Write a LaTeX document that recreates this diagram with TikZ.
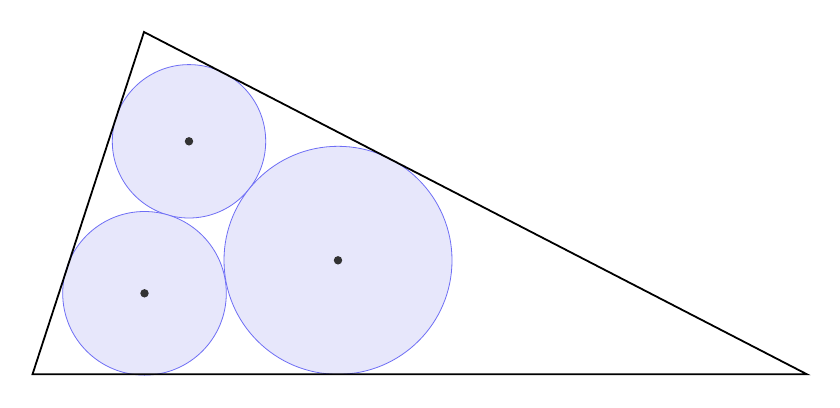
\documentclass[tikz,border=0pt]{standalone}
\definecolor{circfill}{RGB}{231,231,251}
\definecolor{circline}{RGB}{110,110,245}
\definecolor{dotcol}{RGB}{51,51,51}
\begin{document}
\begin{tikzpicture}[x=1pt,y=-1pt,
  malfatti/.style={fill=circfill,draw=circline,line width=0.8pt},
  centre/.style={fill=dotcol}]
\useasboundingbox (0,0) rectangle (840,407);
\coordinate (A) at (32.5,374.3);
\coordinate (B) at (144,32);
\coordinate (C) at (807,374.3);
\coordinate (O1) at (189,141.3);
\coordinate (O2) at (144.5,293.3);
\coordinate (O3) at (338,260.3);
\fill[white] (0,0) rectangle (840,407);
\draw[malfatti] (O1) circle (76.7);
\draw[malfatti] (O2) circle (81.8);
\draw[malfatti] (O3) circle (114);
\fill[centre] (O1) circle (4.2);
\fill[centre] (O2) circle (4.2);
\fill[centre] (O3) circle (4.2);
\draw[black,line width=1.8pt,line join=miter] (A) -- (B) -- (C) -- cycle;
\end{tikzpicture}
\end{document}
